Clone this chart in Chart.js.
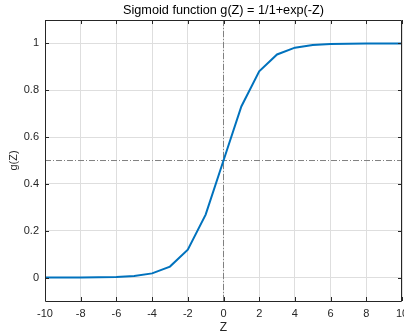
<!DOCTYPE html>
<html><head><meta charset="utf-8">
<script src="https://cdn.jsdelivr.net/npm/chart.js@4/dist/chart.umd.min.js"></script>
<style>html,body{margin:0;padding:0;background:#fff}#wrap{width:404px;height:335px}</style>
</head><body><div id="wrap"><canvas id="c" width="404" height="335"></canvas></div>
<script>
const zValues = [-10,-9,-8,-7,-6,-5,-4,-3,-2,-1,0,1,2,3,4,5,6,7,8,9,10];
const gValues = [0.00005,0.00012,0.00034,0.00091,0.0025,0.0067,0.018,0.047,0.119,0.269,0.5,0.731,0.881,0.953,0.982,0.993,0.9975,0.9991,0.9997,0.9999,0.99995];
const xTicks = [-10,-8,-6,-4,-2,0,2,4,6,8,10];
const yTicks = [0,0.2,0.4,0.6,0.8,1];
const vLineX = [0,0], vLineY = [-0.1,1.1];
const hLineX = [-10,10], hLineY = [0.5,0.5];

const FONT = "'Liberation Sans', Arial, sans-serif";
const TXT = '#262626';

const boxPlugin = {
  id:'box',
  afterDatasetsDraw(chart){
    const {ctx, chartArea:a, scales:{x,y}} = chart;
    ctx.save();
    ctx.strokeStyle = '#262626';
    ctx.lineWidth = 1;
    ctx.beginPath();
    ctx.rect(Math.round(a.left)+0.5, Math.round(a.top)+0.5, Math.round(a.right-a.left)-1, Math.round(a.bottom-a.top));
    ctx.stroke();
    ctx.beginPath();
    const tl = 4;
    xTicks.forEach(v=>{const px=Math.round(x.getPixelForValue(v))+0.5;
      ctx.moveTo(px,a.bottom);ctx.lineTo(px,a.bottom-tl);
      ctx.moveTo(px,a.top);ctx.lineTo(px,a.top+tl);});
    yTicks.forEach(v=>{const py=Math.round(y.getPixelForValue(v))+0.5;
      ctx.moveTo(a.left,py);ctx.lineTo(a.left+tl,py);
      ctx.moveTo(a.right,py);ctx.lineTo(a.right-tl,py);});
    ctx.stroke();
    ctx.restore();
  }
};

new Chart(document.getElementById('c'), {
  type:'line',
  data:{datasets:[
    {data:zValues.map((z,i)=>({x:z,y:gValues[i]})), borderColor:'#0072BD', borderWidth:2, pointRadius:0, tension:0, order:0},
    {data:vLineX.map((v,i)=>({x:v,y:vLineY[i]})), borderColor:'#808080', borderWidth:1, borderDash:[6,2,1,2], pointRadius:0, order:1},
    {data:hLineX.map((v,i)=>({x:v,y:hLineY[i]})), borderColor:'#808080', borderWidth:1, borderDash:[6,2,1,2], pointRadius:0, order:1}
  ]},
  options:{
    responsive:false, animation:false,
    layout:{padding:{left:0,right:2,top:0,bottom:0}},
    plugins:{
      legend:{display:false}, tooltip:{enabled:false},
      title:{display:true, fullSize:false, text:'Sigmoid function g(Z) = 1/1+exp(-Z)', color:'#000',
        font:{family:FONT,size:12.7,weight:'normal'}, padding:{top:2.5,bottom:2.3}}
    },
    scales:{
      x:{type:'linear', min:-10, max:10,
        afterBuildTicks(s){s.ticks = xTicks.map(v=>({value:v}));},
        afterFit(s){s.height=34; s.paddingLeft=0; s.paddingRight=0;},
        grid:{color:'#dedede', drawTicks:false},
        border:{display:false},
        ticks:{color:TXT, padding:6, font:{family:FONT,size:11}, maxRotation:0, autoSkip:false},
        title:{display:true, text:'Z', color:TXT, font:{family:FONT,size:12}, padding:{top:0,bottom:0}}
      },
      y:{type:'linear', min:-0.1, max:1.1,
        afterBuildTicks(s){s.ticks = yTicks.map(v=>({value:v}));},
        afterFit(s){s.width=45; s.paddingTop=0; s.paddingBottom=0;},
        grid:{color:'#dedede', drawTicks:false},
        border:{display:false},
        ticks:{color:TXT, padding:6, font:{family:FONT,size:11}, callback:v=>String(Math.round(v*10)/10)},
        title:{display:true, text:'g(Z)', color:TXT, font:{family:FONT,size:11}, padding:{top:7,bottom:0}}
      }
    }
  },
  plugins:[boxPlugin]
});
</script></body></html>
